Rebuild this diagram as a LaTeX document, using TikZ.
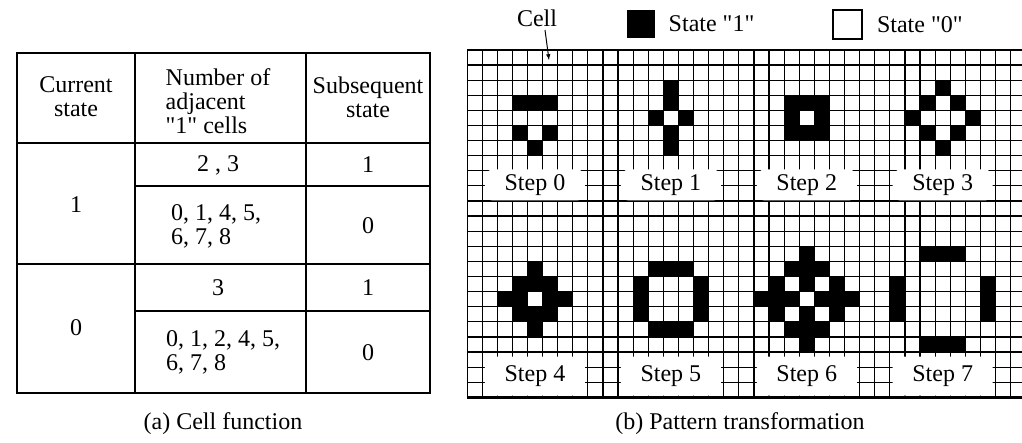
\documentclass[tikz,border=0pt]{standalone}
\usepackage{fontspec}
\setmainfont{Liberation Serif}
\usetikzlibrary{positioning}

\begin{document}
\begin{tikzpicture}[>=latex,x=1pt,y=-1pt,
    every node/.style={font=\fontsize{24}{24}\selectfont},
    steplbl/.style={fill=white,rounded corners=8pt,minimum width=100pt,inner sep=0pt}]
 \xdef\cs{15.1}
 \xdef\gx{467}
 \xdef\gy{50}
 \xdef\gb{397.3}
 \useasboundingbox (0,0) rectangle (1022,443);
  \begin{scope}[line width=1.5pt]
    \draw[line width=2.2pt] (17,53) rectangle (430,393);
    \draw (135,53) -- (135,393);
    \draw (306,53) -- (306,393);
    \draw (17,143) -- (430,143);
    \draw (17,264) -- (430,264);
    \draw (135,186) -- (430,186);
    \draw (135,311) -- (430,311);
    \node[align=center] (cur) at (76,97) {Current\\state};
    \node[align=left] (num) at (218,101) {Number of\\adjacent\\\textquotedbl1\textquotedbl{} cells};
    \node[align=center] (sub) at (368,97) {Subsequent\\state};
    \node (c1) at (76,205) {1};
    \node (c0) at (76,328) {0};
    \node (n1) at (218,165) {2 , 3};
    \node[align=left] (n2) at (216,226) {0, 1, 4, 5,\\6, 7, 8};
    \node (n3) at (218,288) {3};
    \node[align=left] (n4) at (223,352) {0, 1, 2, 4, 5,\\6, 7, 8};
    \node (s1) at (368,165) {1};
    \node (s2) at (368,226) {0};
    \node (s3) at (368,288) {1};
    \node (s4) at (368,353) {0};
  \end{scope}
  \node (capa) at (223,424) {(a) Cell function};
  % cell grid
  \begin{scope}[line width=1.2pt]
    \clip (\gx,0) rectangle (1022,443);
    \foreach \i in {1,...,37}
      \draw (\gx+\i*\cs,\gy) -- (\gx+\i*\cs,\gb);
    \foreach \j in {1,...,22}
      \draw (\gx,\gy+\j*\cs) -- (1022,\gy+\j*\cs);
    \foreach \c/\r in {3/3,4/3,5/3,3/5,5/5,4/6,
        13/2,13/3,12/4,14/4,13/5,13/6,
        21/3,22/3,23/3,21/4,23/4,21/5,22/5,23/5,
        31/2,30/3,32/3,29/4,33/4,30/5,32/5,31/6,
        4/14,3/15,4/15,5/15,2/16,3/16,5/16,6/16,3/17,4/17,5/17,4/18,
        12/14,13/14,14/14,11/15,11/16,11/17,15/15,15/16,15/17,12/18,13/18,14/18,
        22/13,21/14,22/14,23/14,20/15,22/15,24/15,19/16,20/16,21/16,
        23/16,24/16,25/16,20/17,22/17,24/17,21/18,22/18,23/18,22/19,
        30/13,31/13,32/13,28/15,28/16,28/17,34/15,34/16,34/17,30/19,31/19,32/19}
      \fill (\gx+\c*\cs,\gy+\r*\cs) rectangle ++(\cs,\cs);
    \foreach \s/\c in {0/4,1/13,2/22,3/31}
      \node[steplbl,minimum height=31pt] (st\s) at (\gx+\c*\cs+\cs/2,185) {Step \s};
    \foreach \s/\c in {4/4,5/13,6/22,7/31}
      \node[steplbl,minimum height=39pt] (st\s) at (\gx+\c*\cs+\cs/2,376) {Step \s};
    \draw[line width=2.5pt] (1022,\gy) -- (\gx,\gy) -- (\gx,\gb) -- (1022,\gb);
  \end{scope}
  \node (capb) at (740,424) {(b) Pattern transformation};
  % legend
  \node (cell) at (537,18) {Cell};
  \coordinate (pt) at (549,60);
  \draw[->,line width=1pt] ([xshift=8pt]cell.south) -- (pt);
  \node[fill,minimum size=28pt,inner sep=0pt] (one) at (641,24) {};
  \node[right=10pt of one] (onetxt) {State \textquotedbl1\textquotedbl};
  \node[draw,line width=2pt,minimum size=29pt,inner sep=0pt] (zero) at (847,25) {};
  \node[right=11pt of zero] (zerotxt) {State \textquotedbl0\textquotedbl};
\end{tikzpicture}
\end{document}
